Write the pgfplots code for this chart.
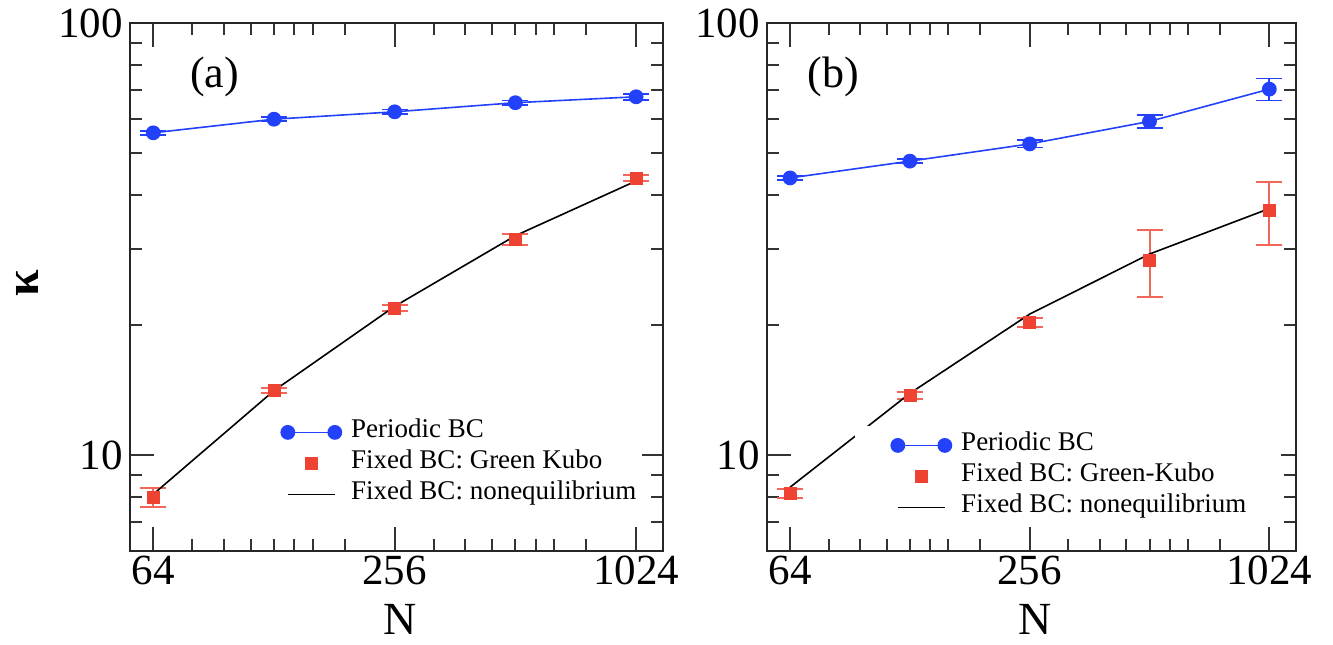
\documentclass[border=0pt]{standalone}
\usepackage{fontspec}
\setmainfont{Liberation Serif}
\usepackage{pgfplots}
\usepackage{pgfplotstable}
\pgfplotsset{compat=1.18}
\definecolor{myblue}{RGB}{35,65,250}
\definecolor{myred}{RGB}{238,66,50}

\pgfplotstableread{
N k e
64 55.7 0.6
128 59.9 0.7
256 62.3 0.8
512 65.4 0.8
1024 67.5 1.1
}\aper
\pgfplotstableread{
N k e
64 8.0 0.4
128 14.1 0.2
256 21.9 0.3
512 31.6 0.9
1024 43.8 0.6
}\agk
\pgfplotstableread{
N k
64 8.12
128 14.1
256 22.1
512 32.2
1024 43.1
}\aneq
\pgfplotstableread{
N k e
64 43.8 0.5
128 47.9 0.5
256 52.5 1.0
512 59.2 2.0
1024 70.3 4.1
}\bper
\pgfplotstableread{
N k e
64 8.17 0.2
128 13.77 0.25
256 20.3 0.5
512 28.2 5.0
1024 36.8 6.1
}\bgk
\pgfplotstableread{
N k
64 8.43
128 13.9
256 21.2
512 29.2
1024 37.2
}\bneq

\begin{document}
\begin{tikzpicture}
\useasboundingbox (0,0) rectangle (666.5pt,322pt);
\begin{axis}[at={(65pt,46.5pt)}, anchor=south west, width=266.5pt,
  scale only axis, height=264pt,
  xmode=log, ymode=log, xmin=56, xmax=1195, ymin=6, ymax=100,
  xtick={64,256,1024}, xticklabels={64,256,1024},
  ytick={10,100}, yticklabels={10,100},
  minor xtick={80,96,112,128,144,160,192,320,384,448,512,576,640,768},
  minor ytick={7,8,9,20,30,40,50,60,70,80,90},
  tick align=inside,
  major tick length=12pt, minor tick length=6pt,
  axis line style={line width=1.3pt, black!85},
  every tick/.style={line width=1pt, black!80},
  tick label style={font=\fontsize{21.5}{21.5}\selectfont},
  xticklabel style={inner sep=1pt, yshift=-1.5pt},
  xlabel={N},
  xlabel style={font=\fontsize{23}{23}\selectfont, inner sep=0pt, at={(axis description cs:0.507,-0.130)}, anchor=center},
  ylabel={\textbf{κ}},
  ylabel style={font=\fontsize{24}{24}\selectfont, at={(axis description cs:-0.193,0.508)}, anchor=center},
  legend cell align=left,
  legend style={draw=none, fill=white, font=\fontsize{13.5}{15.5}\selectfont, inner ysep=1.75pt,
    column sep=4.5pt, nodes={inner sep=0pt, text height=10.5pt, text depth=5pt},
    at={(axis description cs:0.2702,0.2614)}, anchor=north west, inner xsep=3pt}]
\addplot[myblue, line width=0.8pt, mark=*, mark size=3.3pt,
   legend image code/.code={\draw[myblue, line width=0.8pt] (0pt,0pt) -- (23.5pt,0pt); \fill[myblue] (0pt,0pt) circle (3.3pt); \fill[myblue] (23.5pt,0pt) circle (3.3pt);},
   error bars/.cd, y dir=both, y explicit,
   error bar style={line width=0.9pt, myblue},
   error mark options={rotate=90, mark size=6.5pt, line width=0.9pt, myblue}]
   table[x=N, y=k, y error=e]{\aper};
\addlegendentry{Periodic BC}
\addplot[myred, only marks, mark=square*, mark size=3pt,
   legend image code/.code={\fill[myred] (8.75pt,-3pt) rectangle (14.75pt,3pt);},
   error bars/.cd, y dir=both, y explicit,
   error bar style={line width=1pt, myred!80},
   error mark options={rotate=90, mark size=6.5pt, line width=1pt, myred!80}]
   table[x=N, y=k, y error=e]{\agk};
\addlegendentry{Fixed BC: Green Kubo}
\addplot[black, line width=0.8pt, no marks,
   legend image code/.code={\draw[black, line width=0.8pt] (0pt,0pt) -- (23.5pt,0pt);}]
   table[x=N, y=k]{\aneq};
\addlegendentry{Fixed BC: nonequilibrium}
\node[font=\fontsize{22}{22}\selectfont] at (axis description cs:0.159,0.898) {(a)};
\end{axis}
\begin{axis}[at={(383.5pt,46.5pt)}, anchor=south west, width=264.5pt,
  scale only axis, height=264pt,
  xmode=log, ymode=log, xmin=56, xmax=1195, ymin=6, ymax=100,
  xtick={64,256,1024}, xticklabels={64,256,1024},
  ytick={10,100}, yticklabels={10,100},
  minor xtick={80,96,112,128,144,160,192,320,384,448,512,576,640,768},
  minor ytick={7,8,9,20,30,40,50,60,70,80,90},
  tick align=inside,
  major tick length=12pt, minor tick length=6pt,
  axis line style={line width=1.3pt, black!85},
  every tick/.style={line width=1pt, black!80},
  tick label style={font=\fontsize{21.5}{21.5}\selectfont},
  xticklabel style={inner sep=1pt, yshift=-1.5pt},
  xlabel={N},
  xlabel style={font=\fontsize{23}{23}\selectfont, inner sep=0pt, at={(axis description cs:0.507,-0.130)}, anchor=center},
  legend cell align=left,
  legend style={draw=none, fill=white, font=\fontsize{13.5}{15.5}\selectfont, inner ysep=1.75pt,
    column sep=4.5pt, nodes={inner sep=0pt, text height=10.5pt, text depth=5pt},
    at={(axis description cs:0.1664,0.2367)}, anchor=north west, inner xsep=17.5pt}]
\addplot[myblue, line width=0.8pt, mark=*, mark size=3.3pt,
   legend image code/.code={\draw[myblue, line width=0.8pt] (0pt,0pt) -- (23.5pt,0pt); \fill[myblue] (0pt,0pt) circle (3.3pt); \fill[myblue] (23.5pt,0pt) circle (3.3pt);},
   error bars/.cd, y dir=both, y explicit,
   error bar style={line width=0.9pt, myblue},
   error mark options={rotate=90, mark size=6.5pt, line width=0.9pt, myblue}]
   table[x=N, y=k, y error=e]{\bper};
\addlegendentry{Periodic BC}
\addplot[myred, only marks, mark=square*, mark size=3pt,
   legend image code/.code={\fill[myred] (8.75pt,-3pt) rectangle (14.75pt,3pt);},
   error bars/.cd, y dir=both, y explicit,
   error bar style={line width=1pt, myred!80},
   error mark options={rotate=90, mark size=6.5pt, line width=1pt, myred!80}]
   table[x=N, y=k, y error=e]{\bgk};
\addlegendentry{Fixed BC: Green-Kubo}
\addplot[black, line width=0.8pt, no marks,
   legend image code/.code={\draw[black, line width=0.8pt] (0pt,0pt) -- (23.5pt,0pt);}]
   table[x=N, y=k]{\bneq};
\addlegendentry{Fixed BC: nonequilibrium}
\node[font=\fontsize{22}{22}\selectfont] at (axis description cs:0.125,0.898) {(b)};
\end{axis}
\end{tikzpicture}
\end{document}
